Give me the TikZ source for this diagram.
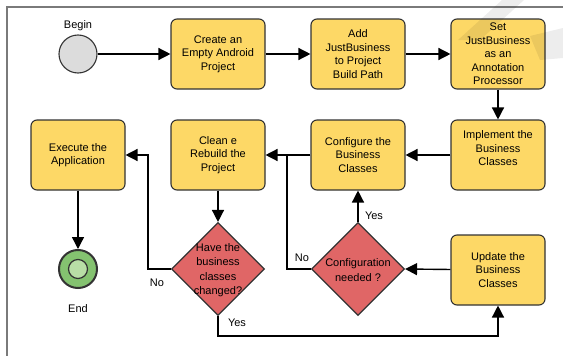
\documentclass[tikz,border=0pt]{standalone}
\usepackage{fontspec}
\setmainfont{Liberation Sans}
\usetikzlibrary{shapes.geometric,arrows.meta}

\definecolor{boxyellow}{HTML}{FDD866}
\definecolor{decred}{HTML}{E06666}
\definecolor{edgegray}{HTML}{333333}
\definecolor{startgray}{HTML}{DCDCDC}
\definecolor{endgreen}{HTML}{84C270}
\definecolor{endinner}{HTML}{B8DEA6}
\definecolor{framegray}{HTML}{7A7A7A}

\tikzset{
  every node/.style={font=\fontsize{11}{13.4}\selectfont},
  proc/.style={rectangle, rounded corners=6pt, draw=edgegray, line width=1.1pt,
    fill=boxyellow, minimum width=94pt, minimum height=70pt, align=center,
    inner sep=2pt},
  decision/.style={diamond, draw=edgegray, line width=1.1pt, fill=decred,
    minimum width=93pt, minimum height=93pt, inner sep=0pt},
  dtext/.style={align=center, inner sep=0pt, font=\fontsize{11}{14.4}\selectfont},
  arr/.style={-{Triangle[length=12pt,width=12pt]}, line width=1.4pt, draw=black},
  conn/.style={line width=1.4pt, draw=black},
  lbl/.style={inner sep=0pt},
}

\begin{document}
\begin{tikzpicture}[x=1pt, y=-1pt]
\useasboundingbox (0,0) rectangle (563,356);
\fill[white] (0,0) rectangle (563,356);

% page frame
\draw[framegray, line width=1.2pt] (7,356) -- (7,7) -- (563,7);

% start and end events
\node[circle, draw=edgegray, line width=1.1pt, fill=startgray,
      minimum size=38pt, inner sep=0pt] (begin) at (78,54) {};
\node[lbl] (beginlbl) at (78,26) {Begin};

\node[circle, draw=edgegray, line width=2pt, fill=endgreen,
      minimum size=38pt, inner sep=0pt] (endc) at (78,269) {};
\node[circle, draw=edgegray, line width=1.2pt, fill=endinner,
      minimum size=19pt, inner sep=0pt] (endin) at (78,269) {};
\node[lbl] (endlbl) at (78,309) {End};

% tasks
\node[proc] (b1) at (218,54) {Create an\\Empty Android\\Project};
\node[proc] (b2) at (358,54) {Add\\JustBusiness\\to Project\\Build Path};
\node[proc] (b3) at (498,54) {Set\\JustBusiness\\as an\\Annotation\\Processor};

\node[proc] (exec)  at (78,155)  {Execute the\\Application};
\node[proc] (clean) at (218,155) {Clean e\\Rebuild the\\Project};
\node[proc] (conf)  at (358,155) {Configure the\\Business\\Classes};
\node[proc] (impl)  at (498,155) {Implement the\\Business\\Classes\\~};

\node[proc] (upd) at (498,270) {Update the\\Business\\Classes};

% decisions
\node[decision] (chg) at (218,269) {};
\node[dtext] (chgtxt) at (218,270) {Have the\\business\\classes\\changed?};
\node[decision] (cfg) at (358,269) {};
\node[dtext] (cfgtxt) at (358,270) {Configuration\\needed ?};

% bend points
\coordinate (chgno)  at (148,269);
\coordinate (chgyes) at (218,336);
\coordinate (cfgno)  at (287,269);
\coordinate (junc)   at (287,155);

% flow
\draw[arr] (begin) -- (b1);
\draw[arr] (b1) -- (b2);
\draw[arr] (b2) -- (b3);
\draw[arr] (b3) -- (impl);
\draw[arr] (impl) -- (conf);
\draw[arr] (conf) -- (clean);
\draw[arr] (clean) -- (chg);
\draw[arr] (chg.west) -- (chgno) |- (exec.east);
\draw[arr] (chg.south) -- (chgyes) -| (upd.south);
\draw[arr] (upd) -- (cfg.east);
\draw[arr] (cfg.north) -- (conf.south);
\draw[conn] (cfg.west) -- (cfgno) -- (junc);
\draw[arr] (exec) -- (endc);

% branch labels
\node[lbl] (nochg)  at (157,283) {No};
\node[lbl] (yeschg) at (237,323) {Yes};
\node[lbl] (yescfg) at (374,216) {Yes};
\node[lbl] (nocfg)  at (302,258) {No};

% faint mark in the corner
\fill[black, opacity=0.07] (502,0) -- (524,0) -- (480,40) -- (458,40) -- cycle;
\fill[black, opacity=0.07] (530,36) -- (563,28) -- (563,58) -- (540,60) -- cycle;
\end{tikzpicture}
\end{document}
